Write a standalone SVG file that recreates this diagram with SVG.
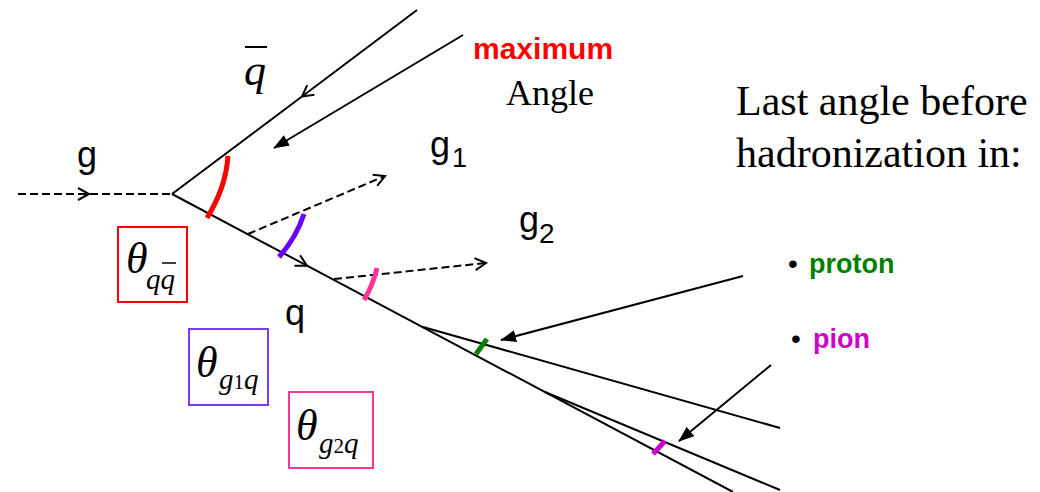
<svg xmlns="http://www.w3.org/2000/svg" width="1040" height="492" viewBox="0 0 1040 492">
<style>
.ln{fill:none;stroke:#000;stroke-width:2}
.dash{fill:none;stroke:#000;stroke-width:2;stroke-dasharray:8 4}
.arc{fill:none;stroke-width:5;stroke-linecap:butt}
.sans{font-family:"Liberation Sans",Arial,sans-serif}
.serif{font-family:"Liberation Serif","Times New Roman",serif}
.it{font-style:italic}
.box{fill:#fff;stroke-width:2}
</style>
<defs>
<marker id="open" viewBox="0 0 14 14" refX="12" refY="7" markerWidth="14" markerHeight="14" markerUnits="userSpaceOnUse" orient="auto"><path d="M1,1 L12,7 L1,13" fill="none" stroke="#000" stroke-width="2" stroke-dasharray="none"/></marker>
<marker id="solid" viewBox="0 0 16 12" refX="15" refY="6" markerWidth="16" markerHeight="12" markerUnits="userSpaceOnUse" orient="auto"><path d="M0,0 L16,6 L0,12 z" fill="#000"/></marker>
</defs>
<rect width="1040" height="492" fill="#fff"/>
<g id="connectors">
<path class="dash" d="M18,194 L89,194 L172,194" marker-mid="url(#open)"/>
<path class="ln" d="M417,10 L302,96.5 L172,194" marker-mid="url(#open)"/>
<path class="ln" d="M172,194 L307,265.7 L733,492" marker-mid="url(#open)"/>
<path class="dash" d="M248,234 L385,176" marker-end="url(#open)"/>
<path class="dash" d="M334,279 L486,263" marker-end="url(#open)"/>
<path class="ln" d="M423,327 L780,428"/>
<path class="ln" d="M545,392 L780,490"/>
<path class="ln" d="M463,35 L274,148" marker-end="url(#solid)"/>
<path class="ln" d="M743,276 L501,340" marker-end="url(#solid)"/>
<path class="ln" d="M771,365 L679,441" marker-end="url(#solid)"/>
</g>
<g id="angle-marks">
<path class="arc" stroke="#FF0000" d="M228,156 Q226,187 207,218"/>
<path class="arc" stroke="#6A00FF" d="M304,214 Q296,238 279,257"/>
<path class="arc" stroke="#FF3399" d="M377,268 Q373,285 364,300"/>
<path class="arc" stroke="#008000" d="M476,354 L487,339"/>
<path class="arc" stroke="#CC00CC" d="M653,454 L665,441"/>
</g>
<g id="label-g"><text class="sans" x="77" y="167" font-size="36">g</text></g>
<g id="label-qbar"><text class="serif it" x="244" y="85" font-size="44">q</text><line x1="245" y1="47" x2="267" y2="47" stroke="#000" stroke-width="2"/></g>
<g id="label-q"><text class="sans" x="285" y="325" font-size="36">q</text></g>
<g id="label-g1"><text class="sans" x="430" y="157" font-size="36">g<tspan x="452" y="167" font-size="27">1</tspan></text></g>
<g id="label-g2"><text class="sans" x="519" y="232" font-size="36">g<tspan x="539" y="243" font-size="28">2</tspan></text></g>
<g id="label-maximum"><text class="sans" x="473" y="59" font-size="30" font-weight="bold" fill="#FF0000">maximum</text><text class="serif" x="506" y="105" font-size="36">Angle</text></g>
<g id="label-last"><text class="serif" x="736" y="115" font-size="42">Last angle before</text><text class="serif" x="736" y="167" font-size="42">hadronization in:</text></g>
<g id="label-proton"><text class="sans" x="788" y="273" font-size="28">•</text><text class="sans" x="809" y="273" font-size="27" font-weight="bold" fill="#008000">proton</text></g>
<g id="label-pion"><text class="sans" x="791" y="348" font-size="28">•</text><text class="sans" x="813" y="348" font-size="27" font-weight="bold" fill="#CC00CC">pion</text></g>
<g id="box-qq">
<rect class="box" stroke="#FF0000" x="118" y="227" width="69" height="75"/>
<text class="serif it" x="126" y="273" font-size="44">θ</text>
<text class="serif it" x="146" y="289" font-size="29">qq</text>
<line x1="162" y1="263" x2="176" y2="263" stroke="#000" stroke-width="1.5"/>
</g>
<g id="box-g1q">
<rect class="box" stroke="#7B3BFF" x="189" y="329" width="79" height="76"/>
<text class="serif it" x="196" y="377" font-size="44">θ</text>
<text class="serif" y="389" font-size="29"><tspan class="it" x="219">g</tspan><tspan font-size="21">1</tspan><tspan class="it">q</tspan></text>
</g>
<g id="box-g2q">
<rect class="box" stroke="#FF3399" x="289" y="392" width="84" height="76"/>
<text class="serif it" x="296" y="440" font-size="44">θ</text>
<text class="serif" y="453" font-size="29"><tspan class="it" x="319">g</tspan><tspan font-size="21">2</tspan><tspan class="it">q</tspan></text>
</g>
</svg>
